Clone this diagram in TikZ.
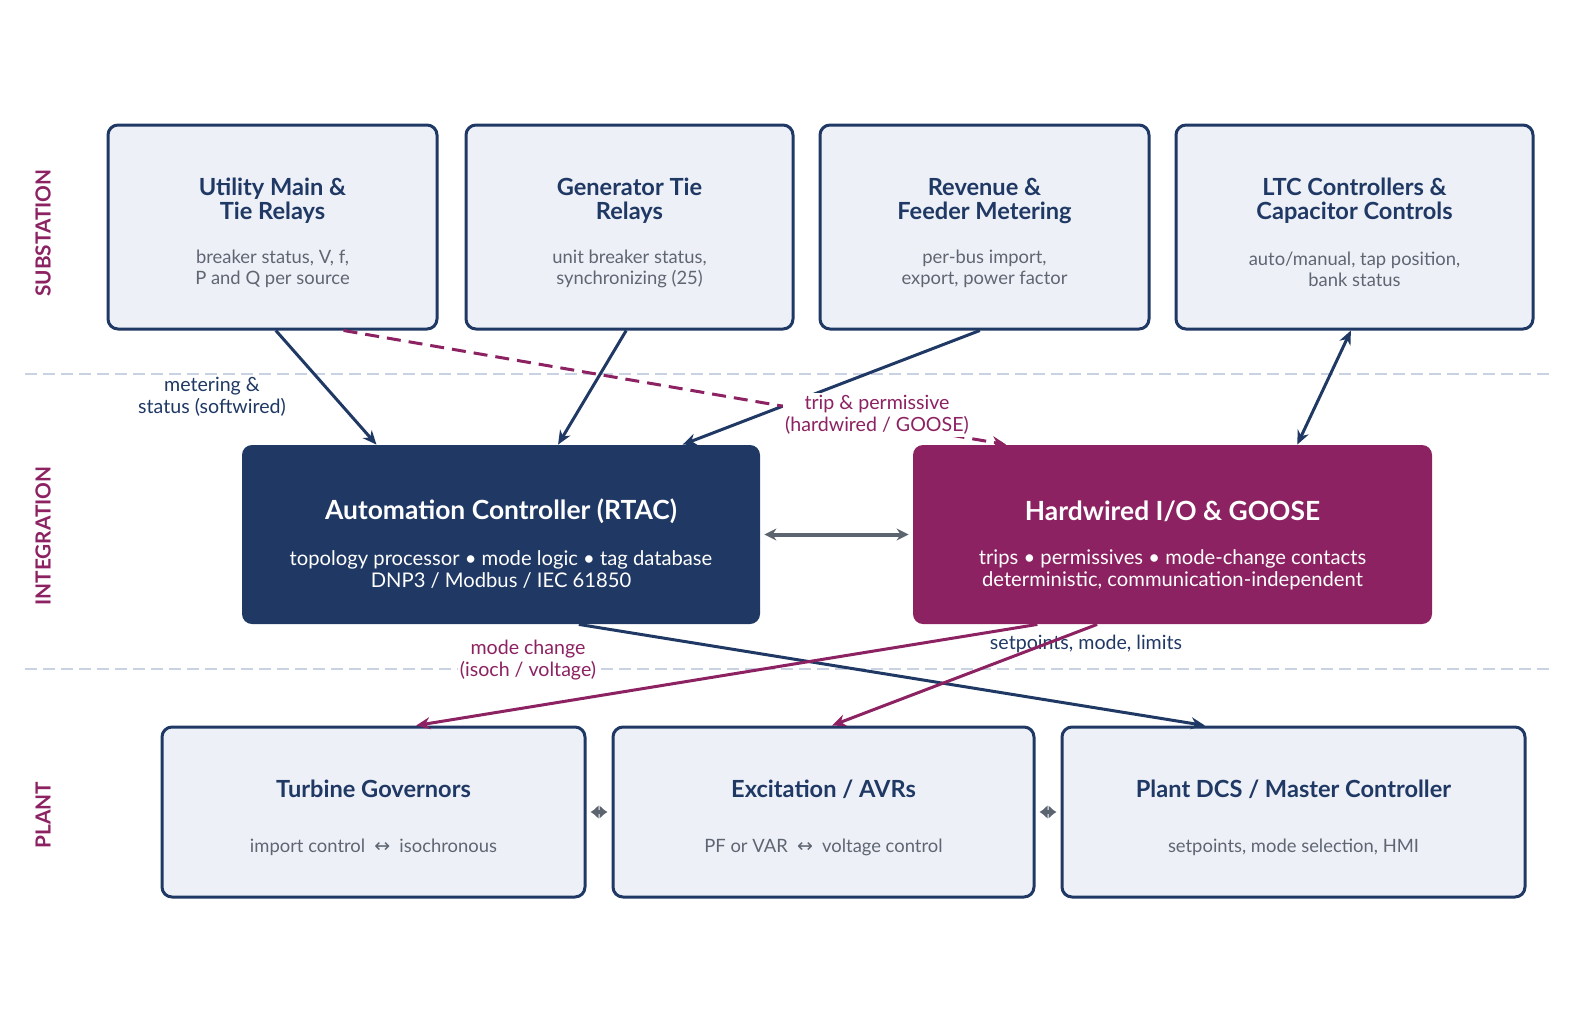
\documentclass[tikz,border=0pt]{standalone}
\usepackage{fontspec}
\setmainfont{Lato}
\newfontfamily\symfont{DejaVu Sans}
\usetikzlibrary{arrows.meta,calc}
\pgfdeclarelayer{edgelayer}
\pgfdeclarelayer{nodelayer}
\pgfsetlayers{edgelayer,nodelayer,main}
\definecolor{navy}{HTML}{1F3864}
\definecolor{plum}{HTML}{8C2262}
\definecolor{paleblue}{HTML}{EDF0F7}
\definecolor{subgrey}{HTML}{5F6672}
\definecolor{linkgrey}{HTML}{5C6470}
\definecolor{sepblue}{HTML}{C9D2E3}
\tikzstyle{none}=[inner sep=0pt]
\tikzstyle{lightbox}=[draw=navy,fill=paleblue,line width=1.5pt,rounded corners=5pt,inner sep=0pt]
\tikzstyle{darkbox}=[fill=navy,rounded corners=5pt,inner sep=0pt]
\tikzstyle{plumbox}=[fill=plum,rounded corners=5pt,inner sep=0pt]
\tikzstyle{ttl}=[inner sep=0pt,align=center,text=navy,font=\fontsize{11.8}{12}\selectfont\bfseries]
\tikzstyle{sub}=[inner sep=0pt,align=center,text=subgrey,font=\fontsize{9.2}{10.5}\selectfont]
\tikzstyle{bigttl}=[inner sep=0pt,text=white,font=\fontsize{13.2}{15}\selectfont\bfseries]
\tikzstyle{bigsub}=[inner sep=0pt,align=center,text=white,font=\fontsize{10.1}{11}\selectfont]
\tikzstyle{tier}=[inner sep=0pt,rotate=90,text=plum,font=\fontsize{10.4}{12}\selectfont\bfseries]
\tikzstyle{tag}=[inner sep=1pt,align=center,font=\fontsize{9.8}{11}\selectfont]
\tikzstyle{sep}=[sepblue,line width=1pt,dash pattern=on 6pt off 3pt]
\tikzstyle{flow}=[navy,line width=1.5pt,-{Stealth[length=7pt,width=6pt]}]
\tikzstyle{trip}=[plum,line width=1.5pt,-{Stealth[length=7pt,width=6pt]}]
\tikzstyle{link}=[linkgrey,line width=2pt,{Stealth[length=6pt,width=6pt]}-{Stealth[length=6pt,width=6pt]}]
\tikzstyle{hop}=[linkgrey,line width=2pt,{Latex[length=4pt,width=7pt]}-{Latex[length=4pt,width=7pt]},shorten <=2pt,shorten >=2pt]
\newcommand{\lr}{\enspace{\symfont\fontsize{9.5}{10}\selectfont ↔}\enspace}

\begin{document}
\begin{tikzpicture}[x=0.5pt,y=-0.5pt]
	\useasboundingbox (0,0) rectangle (1580,1024);
	\begin{pgfonlayer}{nodelayer}
		% substation
		\node [style=lightbox,minimum width=164.5pt,minimum height=102pt] (util) at (272.5,227) {};
		\node [style=lightbox,minimum width=163.5pt,minimum height=102pt] (gen) at (629.5,227) {};
		\node [style=lightbox,minimum width=164.5pt,minimum height=102pt] (rev) at (984.5,227) {};
		\node [style=lightbox,minimum width=178.5pt,minimum height=102pt] (ltc) at (1354.5,227) {};
		\node [style=ttl] (util-t) at (272.5,201) {Utility Main \&\\Tie Relays};
		\node [style=sub] (util-s) at (272.5,269) {breaker status, V, f,\\P and Q per source};
		\node [style=ttl] (gen-t) at (629.5,201) {Generator Tie\\Relays};
		\node [style=sub] (gen-s) at (629.5,269) {unit breaker status,\\synchronizing (25)};
		\node [style=ttl] (rev-t) at (984.5,201) {Revenue \&\\Feeder Metering};
		\node [style=sub] (rev-s) at (984.5,269) {per-bus import,\\export, power factor};
		\node [style=ttl] (ltc-t) at (1354.5,201) {LTC Controllers \&\\Capacitor Controls};
		\node [style=sub] (ltc-s) at (1354.5,269) {auto/manual, tap position,\\bank status};
		% integration
		\node [style=darkbox,minimum width=259pt,minimum height=89.5pt] (rtac) at (501,534.5) {};
		\node [style=plumbox,minimum width=259.5pt,minimum height=89.5pt] (hw) at (1172.5,534.5) {};
		\node [style=bigttl] (rtac-t) at (501,511) {Automation Controller (RTAC)};
		\node [style=bigsub] (rtac-s) at (501,570) {topology processor • mode logic • tag database\\DNP3 / Modbus / IEC 61850};
		\node [style=bigttl] (hw-t) at (1172.5,511) {Hardwired I/O \& GOOSE};
		\node [style=bigsub] (hw-s) at (1172.5,570) {trips • permissives • mode-change contacts\\deterministic, communication-independent};
		% plant
		\node [style=lightbox,minimum width=211.5pt,minimum height=85pt] (gov) at (373.5,812) {};
		\node [style=lightbox,minimum width=210.5pt,minimum height=85pt] (avr) at (823.5,812) {};
		\node [style=lightbox,minimum width=231.5pt,minimum height=85pt] (dcs) at (1293.5,812) {};
		\node [style=ttl] (gov-t) at (373.5,789) {Turbine Governors};
		\node [style=sub] (gov-s) at (373.5,847) {import control\lr isochronous};
		\node [style=ttl] (avr-t) at (823.5,789) {Excitation / AVRs};
		\node [style=sub] (avr-s) at (823.5,847) {PF or VAR\lr voltage control};
		\node [style=ttl] (dcs-t) at (1293.5,789) {Plant DCS / Master Controller};
		\node [style=sub] (dcs-s) at (1293.5,847) {setpoints, mode selection, HMI};
		% tiers
		\node [style=tier] (tier1) at (43,233) {SUBSTATION};
		\node [style=tier] (tier2) at (43,536) {INTEGRATION};
		\node [style=tier] (tier3) at (43,815) {PLANT};
		% labels
		\node [style=tag,text=navy,fill=white,fill opacity=0.85,text opacity=1] (soft) at (212,397) {metering \&\\status (softwired)};
		\node [style=tag,text=navy] (setp) at (1086,644) {setpoints, mode, limits};
	\end{pgfonlayer}
	\begin{pgfonlayer}{edgelayer}
		\draw[style=sep] (25,374) -- (1550,374);
		\draw[style=sep] (25,669) -- (1550,669);
	\end{pgfonlayer}
	\draw[style=flow] ($(util.south west)!0.51!(util.south east)$) to ($(rtac.north west)!0.26!(rtac.north east)$);
	\draw[style=flow] ($(gen.south west)!0.49!(gen.south east)$) to ($(rtac.north west)!0.61!(rtac.north east)$);
	\draw[style=flow] ($(rev.south west)!0.486!(rev.south east)$) to ($(rtac.north west)!0.85!(rtac.north east)$);
	\draw[style=flow,{Stealth[length=7pt,width=6pt]}-{Stealth[length=7pt,width=6pt]}] ($(ltc.south west)!0.49!(ltc.south east)$) to ($(hw.north west)!0.74!(hw.north east)$);
	\draw[style=trip,dash pattern=on 7pt off 4pt] ($(util.south west)!0.714!(util.south east)$) to ($(hw.north west)!0.18!(hw.north east)$);
	\draw[style=link,shorten <=2pt,shorten >=2pt] (rtac.east) to (hw.west);
	\draw[style=flow] ($(rtac.south west)!0.65!(rtac.south east)$) to ($(dcs.north west)!0.31!(dcs.north east)$);
	\draw[style=trip] ($(hw.south west)!0.24!(hw.south east)$) to ($(gov.north west)!0.6!(gov.north east)$);
	\draw[style=trip] ($(hw.south west)!0.355!(hw.south east)$) to ($(avr.north west)!0.52!(avr.north east)$);
	\draw[style=hop] (gov.east) to (avr.west);
	\draw[style=hop] (avr.east) to (dcs.west);
	% labels over the lines
	\node [style=tag,text=plum,fill=white] (hard) at (877,415) {trip \& permissive\\(hardwired / GOOSE)};
	\node [style=tag,text=plum,fill=white] (mode) at (528,660) {mode change\\(isoch / voltage)};
\end{tikzpicture}
\end{document}
